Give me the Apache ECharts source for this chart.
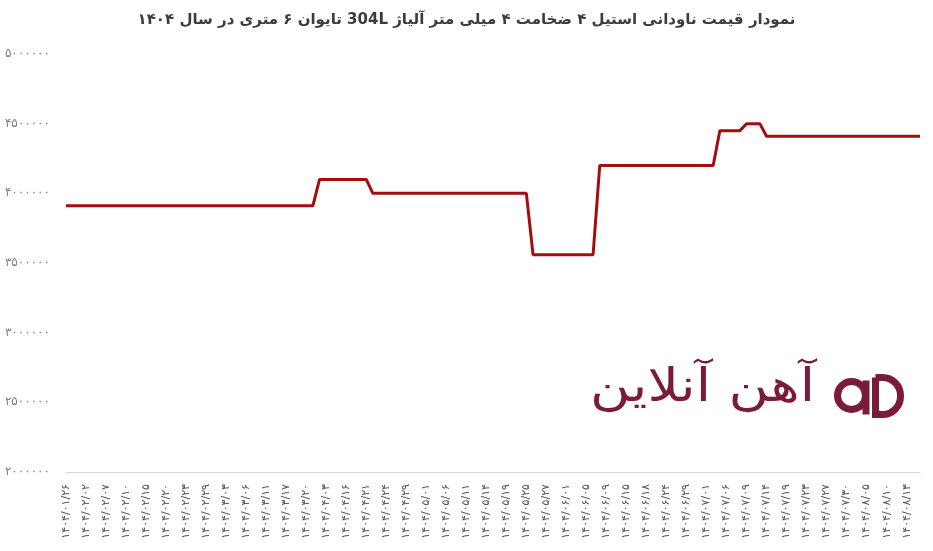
<!DOCTYPE html>
<html>
<head>
<meta charset="utf-8">
<script src="https://cdn.jsdelivr.net/npm/echarts@6/dist/echarts.min.js"></script>
<style>
html,body{margin:0;padding:0;background:#fff;}
#chart{width:933px;height:551px;direction:rtl;}
</style>
</head>
<body>
<div id="chart"></div>
<script>
const titleText = 'نمودار قیمت ناودانی استیل ۴ ضخامت ۴ میلی متر آلیاژ 304L تایوان ۶ متری در سال ۱۴۰۴';

const dates = [
  '1404/01/26','1404/01/27','1404/01/30',
  '1404/02/02','1404/02/04','1404/02/06',
  '1404/02/07','1404/02/08','1404/02/09',
  '1404/02/10','1404/02/11','1404/02/13',
  '1404/02/15','1404/02/16','1404/02/18',
  '1404/02/20','1404/02/21','1404/02/22',
  '1404/02/23','1404/02/25','1404/02/27',
  '1404/02/29','1404/02/30','1404/03/01',
  '1404/03/03','1404/03/04','1404/03/05',
  '1404/03/06','1404/03/08','1404/03/10',
  '1404/03/11','1404/03/13','1404/03/15',
  '1404/03/17','1404/03/18','1404/03/19',
  '1404/03/20','1404/03/21','1404/03/22',
  '1404/04/03','1404/04/08','1404/04/12',
  '1404/04/16','1404/04/17','1404/04/19',
  '1404/04/21','1404/04/22','1404/04/23',
  '1404/04/24','1404/04/26','1404/04/28',
  '1404/04/29','1404/04/30','1404/04/31',
  '1404/05/01','1404/05/04','1404/05/05',
  '1404/05/06','1404/05/07','1404/05/08',
  '1404/05/11','1404/05/12','1404/05/13',
  '1404/05/14','1404/05/15','1404/05/18',
  '1404/05/19','1404/05/20','1404/05/22',
  '1404/05/25','1404/05/26','1404/05/26',
  '1404/05/27','1404/05/28','1404/05/29',
  '1404/06/01','1404/06/02','1404/06/04',
  '1404/06/05','1404/06/06','1404/06/08',
  '1404/06/09','1404/06/11','1404/06/12',
  '1404/06/15','1404/06/16','1404/06/17',
  '1404/06/18','1404/06/19','1404/06/22',
  '1404/06/24','1404/06/25','1404/06/26',
  '1404/06/29','1404/06/30','1404/06/31',
  '1404/07/01','1404/07/02','1404/07/05',
  '1404/07/06','1404/07/07','1404/07/08',
  '1404/07/09','1404/07/12','1404/07/13',
  '1404/07/14','1404/07/15','1404/07/16',
  '1404/07/19','1404/07/20','1404/07/21',
  '1404/07/23','1404/07/24','1404/07/26',
  '1404/07/27','1404/07/28','1404/07/29',
  '1404/07/30','1404/08/03','1404/08/04',
  '1404/08/05','1404/08/06','1404/08/07',
  '1404/08/10','1404/08/11','1404/08/12',
  '1404/08/13','1404/08/14','1404/08/17'
];

const prices = [
  3910000,3910000,3910000,3910000,3910000,3910000,3910000,3910000,3910000,3910000,
  3910000,3910000,3910000,3910000,3910000,3910000,3910000,3910000,3910000,3910000,
  3910000,3910000,3910000,3910000,3910000,3910000,3910000,3910000,3910000,3910000,
  3910000,3910000,3910000,3910000,3910000,3910000,3910000,3910000,
  4100000,4100000,4100000,4100000,4100000,4100000,4100000,4100000,
  4000000,4000000,4000000,4000000,4000000,4000000,4000000,4000000,4000000,4000000,
  4000000,4000000,4000000,4000000,4000000,4000000,4000000,4000000,4000000,4000000,
  4000000,4000000,4000000,4000000,
  3560000,3560000,3560000,3560000,3560000,3560000,3560000,3560000,3560000,3560000,
  4200000,4200000,4200000,4200000,4200000,4200000,4200000,4200000,4200000,4200000,
  4200000,4200000,4200000,4200000,4200000,4200000,4200000,4200000,
  4450000,4450000,4450000,4450000,
  4500000,4500000,4500000,
  4410000,4410000,4410000,4410000,4410000,4410000,4410000,4410000,4410000,4410000,
  4410000,4410000,4410000,4410000,4410000,4410000,4410000,4410000,4410000,4410000,
  4410000,4410000,4410000,4410000
];

const yMin = 2000000, yMax = 5000000, yStep = 500000;
const watermarkText = 'آهن آنلاین';

const faDigits = '۰۱۲۳۴۵۶۷۸۹';
function toFa(s){ return String(s).replace(/[0-9]/g, d => faDigits[+d]); }

const chart = echarts.init(document.getElementById('chart'), null, {renderer:'canvas'});
chart.setOption({
  animation: false,
  backgroundColor: '#ffffff',
  title: {
    text: titleText,
    left: 'center',
    top: 8,
    textStyle: {fontFamily: 'DejaVu Sans', fontSize: 15, fontWeight: 'bold', color: '#3c3c3c'}
  },
  grid: {left: 66, right: 13, top: 54, bottom: 79},
  xAxis: {
    type: 'category',
    boundaryGap: false,
    data: dates,
    axisLine: {lineStyle: {color: '#d6d6d6', width: 1}},
    axisTick: {show: false},
    axisLabel: {
      interval: 2,
      rotate: 90,
      margin: 12,
      fontSize: 11,
      color: '#555',
      fontFamily: 'DejaVu Sans',
      formatter: v => toFa(v)
    },
    splitLine: {show: false}
  },
  yAxis: {
    type: 'value',
    min: yMin, max: yMax, interval: yStep,
    axisLine: {show: false},
    axisTick: {show: false},
    splitLine: {show: false},
    axisLabel: {
      margin: 16,
      fontSize: 12,
      color: '#808080',
      fontFamily: 'DejaVu Sans',
      formatter: v => toFa(v)
    }
  },
  graphic: [
    {
      type: 'text', z: 0, silent: true,
      x: 590, y: 366, scaleX: 1.2, scaleY: 1,
      style: {text: watermarkText, font: '46px "DejaVu Sans"', fill: '#7a1b3b'}
    },
    {
      type: 'group', z: 0, silent: true, left: 834, top: 374,
      children: [
        {type:'circle', shape:{cx:18, cy:19, r:14}, style:{fill:'none', stroke:'#7a1b3b', lineWidth:7}},
        {type:'rect', shape:{x:29, y:4, width:7, height:34}, style:{fill:'#7a1b3b'}},
        {type:'rect', shape:{x:42, y:1, width:25, height:37, r:[0,18,18,0]}, style:{fill:'none', stroke:'#7a1b3b', lineWidth:7}}
      ]
    }
  ],
  series: [{
    type: 'line',
    data: prices,
    showSymbol: false,
    symbol: 'none',
    lineStyle: {color: '#a30d10', width: 3},
    z: 3
  }]
});
</script>
</body>
</html>
